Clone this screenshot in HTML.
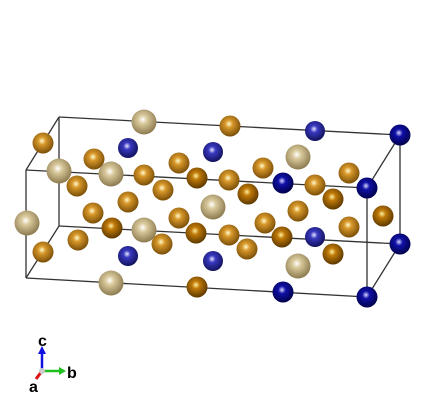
<!DOCTYPE html>
<html><head><meta charset="utf-8"><style>
html,body{margin:0;padding:0;background:#fff;width:426px;height:414px;overflow:hidden}
text{font-family:"Liberation Sans",sans-serif;font-weight:bold}
</style></head><body>
<svg id="scene" width="426" height="414" viewBox="0 0 426 414" xmlns="http://www.w3.org/2000/svg">
<defs>
<radialGradient id="g-tan" cx="0.45" cy="0.4" r="0.6"><stop offset="0" stop-color="#ffffff"/><stop offset="0.3" stop-color="#d8c89a"/><stop offset="1" stop-color="#8c7a4e"/></radialGradient>
<radialGradient id="g-orange" cx="0.45" cy="0.4" r="0.6"><stop offset="0" stop-color="#fffbd0"/><stop offset="0.3" stop-color="#d8982a"/><stop offset="1" stop-color="#7a4e08"/></radialGradient>
<radialGradient id="g-dorange" cx="0.45" cy="0.4" r="0.6"><stop offset="0" stop-color="#fff0a0"/><stop offset="0.3" stop-color="#c07a08"/><stop offset="1" stop-color="#5c3800"/></radialGradient>
<radialGradient id="g-blue" cx="0.45" cy="0.4" r="0.6"><stop offset="0" stop-color="#e8e8ff"/><stop offset="0.3" stop-color="#3838c0"/><stop offset="1" stop-color="#12125c"/></radialGradient>
<radialGradient id="g-dblue" cx="0.45" cy="0.4" r="0.6"><stop offset="0" stop-color="#d8d8ff"/><stop offset="0.3" stop-color="#1010a8"/><stop offset="1" stop-color="#00004a"/></radialGradient>
</defs>
<g id="box" stroke="#333" stroke-width="1.3" fill="none"></g>
<g id="atoms"></g>
<g>
<line x1="42" y1="371" x2="42" y2="352" stroke="#1010e0" stroke-width="2.5"/>
<polygon points="38,354 46,354 42,346" fill="#1010e0"/>
<line x1="42" y1="371" x2="60" y2="371" stroke="#20c020" stroke-width="2.5"/>
<polygon points="59,367 59,375 66,371" fill="#20c020"/>
<line x1="42" y1="371" x2="36" y2="379" stroke="#e01010" stroke-width="3"/>
<circle cx="42" cy="371" r="3" fill="#ccc"/>
<text x="38" y="346" font-size="16">c</text>
<text x="67" y="378" font-size="16">b</text>
<text x="29" y="392" font-size="16">a</text>
</g>
</svg>
<script>
const corners = {btl:[59,117],btr:[400,135],bbl:[59,226],bbr:[400,244],ftl:[26,170],ftr:[367,188],fbl:[26,278],fbr:[367,297]};
const edges = [["btl","btr"],["bbl","bbr"],["btl","bbl"],["btr","bbr"],["ftl","ftr"],["fbl","fbr"],["ftl","fbl"],["ftr","fbr"],["btl","ftl"],["btr","ftr"],["bbl","fbl"],["bbr","fbr"]];
const atomX = [144,230,315,400,43,128,213,94,298,59,111,179,263,349,144,197,229,283,315,367,77,163,248,333,128,213,298,383,27,93,179,265,349,112,144,196,229,282,315,400,78,162,247,333,43,128,213,298,111,197,283,367];
const atomY = [122,126,131,135,143,148,152,159,157,171,174,163,168,173,175,178,180,183,185,188,186,190,194,199,202,207,211,216,223,213,218,223,227,228,230,233,235,237,237,244,240,244,249,254,252,256,261,266,283,287,292,297];
const atomType = ["tan","orange","blue","dblue","orange","blue","blue","orange","tan","tan","tan","orange","orange","orange","orange","dorange","orange","dblue","orange","dblue","orange","orange","dorange","dorange","orange","tan","orange","dorange","tan","orange","orange","orange","orange","dorange","tan","dorange","orange","dorange","blue","dblue","orange","orange","orange","dorange","orange","blue","blue","tan","tan","dorange","dblue","dblue"];
const radius = {tan:12.5,orange:10.5,dorange:10.5,blue:10,dblue:10.5};
const NS="http://www.w3.org/2000/svg";
const box=document.getElementById('box');
edges.forEach(e=>{const l=document.createElementNS(NS,'line');


const a=corners[e[0]],b=corners[e[1]];
l.setAttribute('x1',a[0]);l.setAttribute('y1',a[1]);l.setAttribute('x2',b[0]);l.setAttribute('y2',b[1]);box.appendChild(l);});
const g=document.getElementById('atoms');
const idx=atomX.map((_,i)=>i).sort((a,b)=>atomY[a]-atomY[b]);
idx.forEach(i=>{const c=document.createElementNS(NS,'circle');


c.setAttribute('cx',atomX[i]);c.setAttribute('cy',atomY[i]);c.setAttribute('r',radius[atomType[i]]);
c.setAttribute('fill','url(#g-'+atomType[i]+')');g.appendChild(c);});
</script>
</body></html>
